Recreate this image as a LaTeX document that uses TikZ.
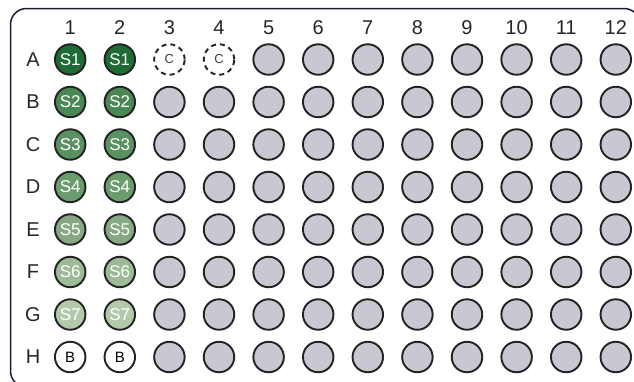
\documentclass[tikz,border=0pt]{standalone}
\usepackage{fontspec}
\setmainfont{Liberation Sans}
\definecolor{plateline}{HTML}{1C1C3A}
\definecolor{wellline}{HTML}{222222}
\definecolor{wellgray}{HTML}{C9C7D1}
\definecolor{sA}{HTML}{1F6B36}
\definecolor{sB}{HTML}{4B8655}
\definecolor{sC}{HTML}{5A9162}
\definecolor{sD}{HTML}{6B9C6E}
\definecolor{sE}{HTML}{86A882}
\definecolor{sF}{HTML}{9CBA95}
\definecolor{sG}{HTML}{B3C9AB}
\tikzset{
  well/.style={circle, draw=wellline, line width=1.9pt, minimum size=30.5pt, inner sep=0pt},
  graywell/.style={well, fill=wellgray},
  samplewell/.style={well, text=white, font=\fontsize{17pt}{17pt}\selectfont},
  ctrlwell/.style={well, dash pattern=on 5pt off 4pt, fill=white, text=black!75, font=\fontsize{13pt}{13pt}\selectfont},
  blankwell/.style={well, fill=white, text=black, font=\fontsize{15pt}{15pt}\selectfont},
  lbl/.style={font=\fontsize{20pt}{20pt}\selectfont, text=black!85, inner sep=0pt},
  plate/.style={draw=plateline, line width=1.5pt, rounded corners=16pt}
}
\begin{document}
\begin{tikzpicture}[x=1pt,y=-1pt]
\useasboundingbox (0,0) rectangle (634,381);
\begin{scope}
\clip (0,0) rectangle (634,381);
\draw[plate] (10.5,8.5) rectangle (640,387);
\end{scope}
% column labels
\foreach \c in {1,...,12}{
  \pgfmathsetmacro{\xx}{70.2+(\c-1)*49.6}
  \node[lbl] (col\c) at (\xx,28) {\c};
}
% row labels
\foreach \r [count=\i] in {A,B,C,D,E,F,G,H}{
  \pgfmathsetmacro{\yy}{59.5+(\i-1)*42.5}
  \node[lbl] (row\r) at (33,\yy) {\r};
}
% gray wells
\foreach \r [count=\i] in {A,B,C,D,E,F,G,H}{
  \pgfmathsetmacro{\yy}{59.5+(\i-1)*42.5}
  \foreach \c in {3,...,12}{
    \pgfmathsetmacro{\xx}{70.2+(\c-1)*49.6}
    \pgfmathtruncatemacro{\skip}{(\i==1)&&(\c<5)}
    \ifnum\skip=0
      \node[graywell] (w\r\c) at (\xx,\yy) {};
    \fi
  }
}
% control wells
\node[ctrlwell] (wA3) at (169.4,59.5) {C};
\node[ctrlwell] (wA4) at (219.0,59.5) {C};
% sample wells
\foreach \r/\col/\s [count=\i] in {A/sA/S1,B/sB/S2,C/sC/S3,D/sD/S4,E/sE/S5,F/sF/S6,G/sG/S7}{
  \pgfmathsetmacro{\yy}{59.5+(\i-1)*42.5}
  \node[samplewell, fill=\col] (w\r1) at (70.2,\yy) {\s};
  \node[samplewell, fill=\col] (w\r2) at (119.8,\yy) {\s};
}
% blank wells
\node[blankwell] (wH1) at (70.2,357) {B};
\node[blankwell] (wH2) at (119.8,357) {B};
\end{tikzpicture}
\end{document}
